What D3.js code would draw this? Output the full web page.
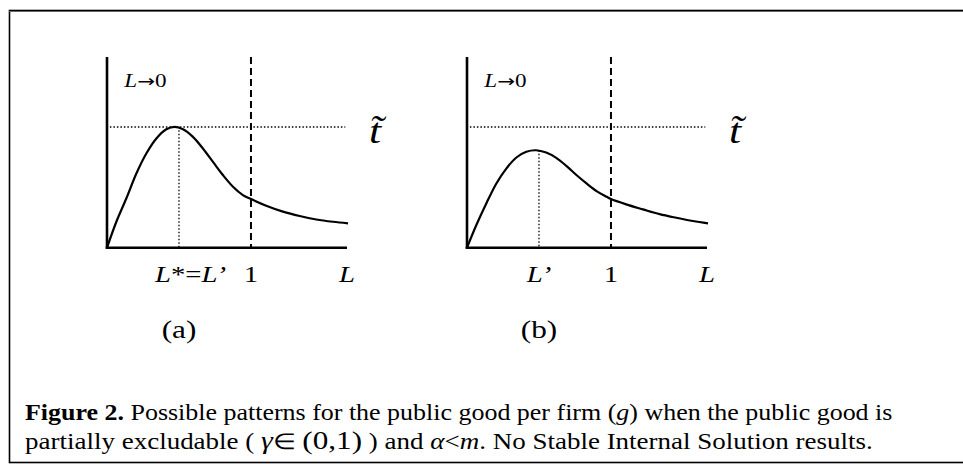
<!DOCTYPE html>
<html>
<head>
<meta charset="utf-8">
<script src="https://cdn.jsdelivr.net/npm/d3@7"></script>
<style>
  html, body { margin: 0; padding: 0; background: #fff; }
  svg { display: block; }
  text { font-family: "Liberation Serif", "Times New Roman", serif; fill: #000; }
</style>
</head>
<body>
<svg id="fig" width="963" height="464"></svg>
<script>
// Curve of the public good per firm g(L), panel (a): peak touches t~
const L_a = [0, 0.065, 0.134, 0.204, 0.273, 0.343, 0.412, 0.47, 0.528, 0.597, 0.666, 0.736, 0.805, 0.875, 0.944, 1.0, 1.106, 1.222, 1.338, 1.454, 1.57, 1.674];
const g_a = [0, 0.136, 0.258, 0.389, 0.494, 0.573, 0.621, 0.634, 0.621, 0.581, 0.52, 0.45, 0.381, 0.32, 0.276, 0.255, 0.22, 0.189, 0.166, 0.148, 0.136, 0.128];
// Panel (b): peak stays below t~
const L_b = [0, 0.065, 0.134, 0.204, 0.273, 0.343, 0.412, 0.48, 0.55, 0.62, 0.69, 0.76, 0.83, 0.9, 0.97, 1.0, 1.106, 1.222, 1.338, 1.454, 1.57, 1.674];
const g_b = [0, 0.119, 0.232, 0.337, 0.415, 0.473, 0.503, 0.511, 0.499, 0.471, 0.429, 0.381, 0.337, 0.297, 0.267, 0.255, 0.227, 0.201, 0.176, 0.157, 0.14, 0.128];

const tTilde = 0.633;       // level of the dotted t~ line
const Lprime = [0.5, 0.5];  // L' for (a) and (b)
const Lunit = 1;            // the L = 1 reference line
const Lmax = 1.667;
const panelNames = ["(a)", "(b)"];

const SX = 1.25;            // horizontal stretch of the typeset text

const svg = d3.select("#fig");

// place a text element with the horizontal stretch applied
function label(parent, x, y, size, anchor) {
  return parent.append("text")
    .attr("transform", `translate(${x},${y}) scale(${SX},1)`)
    .attr("font-size", size)
    .attr("text-anchor", anchor || "start");
}

// stretch a caption line so that it runs from x0 to x1
function fitLine(sel, x0, y, x1) {
  const w = sel.node().getComputedTextLength();
  sel.attr("transform", `translate(${x0},${y}) scale(${(x1 - x0) / w},1)`);
}

// outer frame (right side runs past the page edge)
svg.append("rect")
  .attr("x", 9.5).attr("y", 10.5)
  .attr("width", 970).attr("height", 452)
  .attr("fill", "none").attr("stroke", "#000").attr("stroke-width", 1.6);
svg.append("line").attr("x1", 9).attr("x2", 963).attr("y1", 11.5).attr("y2", 11.5)
  .attr("stroke", "#666").attr("stroke-width", 1);

const panels = [
  { L: L_a, g: g_a, x0: 107, name: panelNames[0], Lp: Lprime[0], tick: "a" },
  { L: L_b, g: g_b, x0: 467, name: panelNames[1], Lp: Lprime[1], tick: "b" }
];

panels.forEach(p => {
  const x = d3.scaleLinear().domain([0, Lmax]).range([p.x0, p.x0 + 240]);
  const y = d3.scaleLinear().domain([0, 1]).range([247.7, 57]);
  const G = svg.append("g");

  // dotted t~ level
  G.append("line")
    .attr("x1", x(0.02)).attr("x2", x(1.655))
    .attr("y1", y(tTilde)).attr("y2", y(tTilde))
    .attr("stroke", "#000").attr("stroke-width", 1.3)
    .attr("stroke-dasharray", "1.5,2");

  // dashed L = 1
  G.append("line")
    .attr("x1", x(Lunit)).attr("x2", x(Lunit))
    .attr("y1", y(1)).attr("y2", y(0))
    .attr("stroke", "#000").attr("stroke-width", 2)
    .attr("stroke-dasharray", "7,4");

  // curve
  const idx = d3.range(p.L.length);
  const peak = d3.maxIndex(p.g);
  G.append("path")
    .datum(idx)
    .attr("d", d3.line().x(i => x(p.L[i])).y(i => y(p.g[i])).curve(d3.curveCatmullRom.alpha(0.5)))
    .attr("fill", "none").attr("stroke", "#000").attr("stroke-width", 2.2);

  // dotted drop line from the peak to L'
  G.append("line")
    .attr("x1", x(p.Lp)).attr("x2", x(p.Lp))
    .attr("y1", y(p.g[peak])).attr("y2", y(0))
    .attr("stroke", "#000").attr("stroke-width", 1.3)
    .attr("stroke-dasharray", "1.5,2");

  // axes
  G.append("line").attr("x1", x(0)).attr("x2", x(0)).attr("y1", y(0) + 1).attr("y2", y(1))
    .attr("stroke", "#000").attr("stroke-width", 2.6);
  G.append("line").attr("x1", x(0) - 1.3).attr("x2", x(Lmax)).attr("y1", y(0)).attr("y2", y(0))
    .attr("stroke", "#000").attr("stroke-width", 2.6);

  // L -> 0 note
  const note = label(G, x(0.12), 87, 18.5);
  note.append("tspan").attr("font-style", "italic").text("L");
  note.append("tspan").attr("font-family", "DejaVu Sans").attr("font-size", 17).attr("dy", -0.5).text("\u2192");
  note.append("tspan").attr("dy", 0.5).text("0");

  // t~ label
  label(G, x(Lmax) + 28, 143, 35, "middle")
    .attr("font-style", "italic").text("t\u0303");

  // tick labels
  if (p.tick === "a") {
    const t = label(G, x(p.Lp) - 24, 282, 23);
    t.append("tspan").attr("font-style", "italic").text("L");
    t.append("tspan").text("*=");
    t.append("tspan").attr("font-style", "italic").text("L\u2019");
  } else {
    label(G, x(p.Lp), 282, 23, "middle").attr("font-style", "italic").text("L\u2019");
  }
  label(G, x(Lunit), 282, 23, "middle").text("1");
  label(G, x(Lmax), 282, 23, "middle").attr("font-style", "italic").text("L");

  // panel name
  label(G, x(0.5), 338, 25, "middle").text(p.name);
});

// caption
const cap1 = svg.append("text").attr("font-size", 22.5);
cap1.append("tspan").attr("font-weight", "bold").text("Figure 2.");
cap1.append("tspan").text(" Possible patterns for the public good per firm (");
cap1.append("tspan").attr("font-style", "italic").text("g");
cap1.append("tspan").text(") when the public good is");
fitLine(cap1, 25, 420, 893);

const cap2 = svg.append("text").attr("font-size", 22.5);
cap2.append("tspan").text("partially excludable ( ");
cap2.append("tspan").attr("font-style", "italic").attr("font-size", 25).text("\u03B3");
cap2.append("tspan").attr("font-size", 22).text("\u2208 ");
cap2.append("tspan").attr("font-size", 26).text("(0,1)");
cap2.append("tspan").text(" ) and ");
cap2.append("tspan").attr("font-style", "italic").text("\u03B1");
cap2.append("tspan").text("<");
cap2.append("tspan").attr("font-style", "italic").text("m");
cap2.append("tspan").text(". No Stable Internal Solution results.");
fitLine(cap2, 25, 449, 873);
</script>
</body>
</html>
